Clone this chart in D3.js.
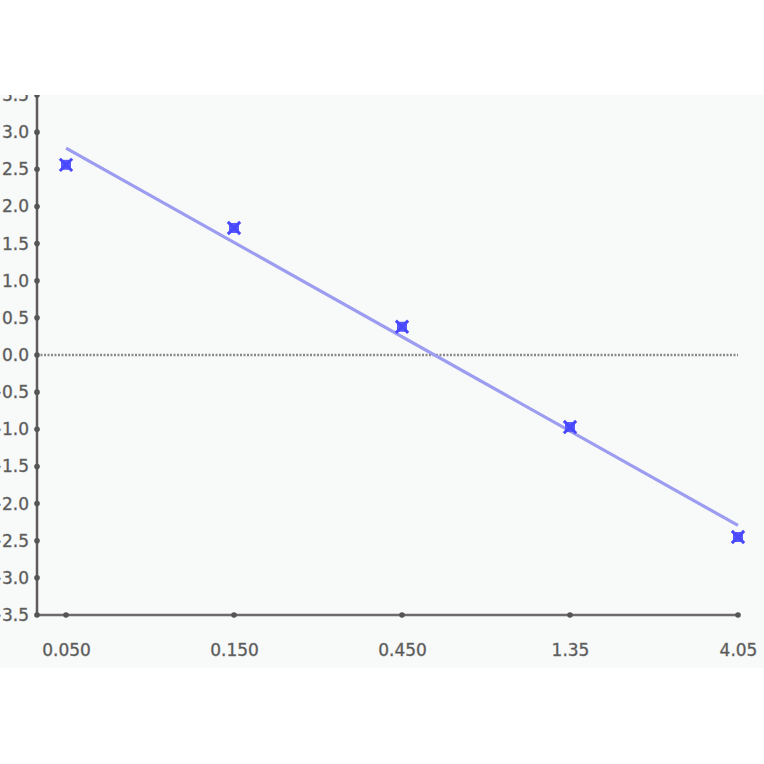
<!DOCTYPE html>
<html>
<head>
<meta charset="utf-8">
<script src="https://cdn.jsdelivr.net/npm/d3@7"></script>
<style>
  body { margin: 0; background: #fff; }
  svg { display: block; }
  .tick text { font-family: "DejaVu Sans", sans-serif; font-size: 17px; fill: #555; stroke: #777; stroke-width: 0.4px; }
</style>
</head>
<body>
<div class="chart"></div>
<script>
const width = 764;
const height = 764;

// data
const doses = [0.05, 0.15, 0.45, 1.35, 4.05];
const doseLabels = ["0.050", "0.150", "0.450", "1.35", "4.05"];
const responses = [2.56, 1.71, 0.38, -0.97, -2.45];
const yTicks = [-3.5, -3.0, -2.5, -2.0, -1.5, -1.0, -0.5, 0, 0.5, 1.0, 1.5, 2.0, 2.5, 3.0, 3.5];

const svg = d3.select(".chart")
  .append("svg")
  .attr("width", width)
  .attr("height", height);

// visible panel (the chart is cropped at the top and left)
const panelTop = 95, panelBottom = 668;
svg.append("clipPath").attr("id", "panel")
  .append("rect")
  .attr("x", 0).attr("y", panelTop)
  .attr("width", width).attr("height", panelBottom - panelTop);

const g = svg.append("g").attr("clip-path", "url(#panel)");

g.append("rect")
  .attr("x", 0).attr("y", panelTop)
  .attr("width", width).attr("height", panelBottom - panelTop)
  .attr("fill", "#f8f9f9");

const x = d3.scaleLog().domain([0.05, 4.05]).range([66, 738]);
const y = d3.scaleLinear().domain([-3.5, 3.5]).range([615, 95]);
const axisX = 37;
const axisRight = 740;

// least-squares fit on log(dose)
const lx = doses.map(Math.log);
const mx = d3.mean(lx), my = d3.mean(responses);
const slope = d3.sum(lx, (v, i) => (v - mx) * (responses[i] - my)) / d3.sum(lx, v => (v - mx) ** 2);
const fit = d => my + slope * (Math.log(d) - mx);

// zero line
g.append("line")
  .attr("x1", axisX).attr("x2", x(doses[doses.length - 1]))
  .attr("y1", y(0)).attr("y2", y(0))
  .attr("stroke", "#8a8a8a")
  .attr("stroke-width", 2.5)
  .attr("stroke-dasharray", "2,1.5");

// axes
const yAxis = g.append("g")
  .attr("transform", `translate(${axisX},0)`)
  .call(d3.axisLeft(y).tickValues(yTicks).tickSize(0).tickPadding(8).tickFormat(d3.format(".1f")));
yAxis.select(".domain").remove();

const xAxis = g.append("g")
  .attr("transform", `translate(0,${y(-3.5)})`)
  .call(d3.axisBottom(x).tickValues(doses).tickSize(0).tickPadding(29)
    .tickFormat((d, i) => doseLabels[i]));
xAxis.select(".domain").remove();

g.append("line")
  .attr("x1", axisX).attr("x2", axisX)
  .attr("y1", y(3.5) - 5).attr("y2", y(-3.5))
  .attr("stroke", "#5e5a5e").attr("stroke-width", 2.5);
g.append("line")
  .attr("x1", axisX).attr("x2", axisRight)
  .attr("y1", y(-3.5)).attr("y2", y(-3.5))
  .attr("stroke", "#6e6a6e").attr("stroke-width", 2.5);

g.append("g").selectAll("circle")
  .data(yTicks)
  .join("circle")
  .attr("cx", axisX).attr("cy", d => y(d))
  .attr("r", 2.8).attr("fill", "#555");

g.append("g").selectAll("circle")
  .data(doses)
  .join("circle")
  .attr("cx", d => x(d)).attr("cy", y(-3.5))
  .attr("r", 2.8).attr("fill", "#555");

// fitted line
g.append("line")
  .attr("x1", x(doses[0])).attr("y1", y(fit(doses[0])))
  .attr("x2", x(doses[doses.length - 1])).attr("y2", y(fit(doses[doses.length - 1])))
  .attr("stroke", "#9c9cf0")
  .attr("stroke-width", 3.2);

// markers
const pts = g.append("g").selectAll("g")
  .data(doses)
  .join("g")
  .attr("transform", (d, i) => `translate(${x(d)},${y(responses[i])})`);
pts.append("rect")
  .attr("x", -5).attr("y", -5).attr("width", 10).attr("height", 10)
  .attr("fill", "#5a5aff");
pts.append("path")
  .attr("d", d3.symbol(d3.symbolX, 100))
  .attr("stroke", "#4848ff").attr("stroke-width", 3).attr("fill", "none");
</script>
</body>
</html>
